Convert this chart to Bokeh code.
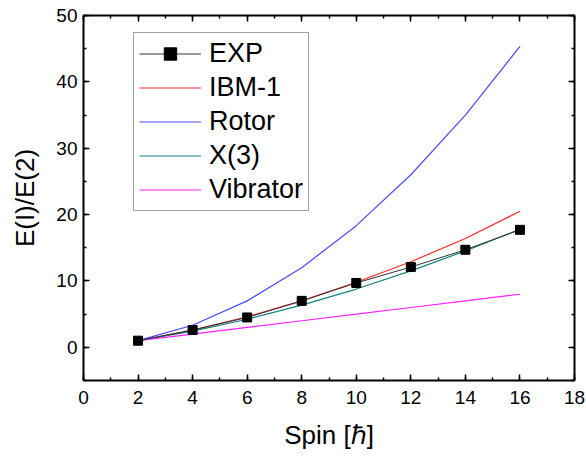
from bokeh.plotting import figure
from bokeh.models import Range1d, LinearAxis, SingleIntervalTicker, Legend, LegendItem
from bokeh.embed import file_html
from bokeh.resources import INLINE

spin = [2, 4, 6, 8, 10, 12, 14, 16]
exp_vals = [1.0, 2.6, 4.5, 7.0, 9.7, 12.1, 14.7, 17.7]
ibm_vals = [1.0, 2.6, 4.6, 7.0, 9.8, 12.9, 16.4, 20.5]
rotor_vals = [1.0, 3.33, 7.0, 12.0, 18.33, 26.0, 35.0, 45.33]
x3_vals = [1.0, 2.44, 4.23, 6.35, 8.78, 11.52, 14.53, 17.8]
vib_vals = [1.0, 2.0, 3.0, 4.0, 5.0, 6.0, 7.0, 8.0]

FONT = "Liberation Sans"

p = figure(width=586, height=459, output_backend="svg", toolbar_location=None,
           x_range=Range1d(0, 18), y_range=Range1d(-5, 50),
           x_axis_type=None, y_axis_type=None)
p.min_border_left = 83
p.min_border_right = 12
p.min_border_top = 15
p.min_border_bottom = 79
p.outline_line_color = None
p.grid.visible = False
p.background_fill_color = "white"
p.border_fill_color = "white"

xt = SingleIntervalTicker(interval=2, num_minor_ticks=2)
yt = SingleIntervalTicker(interval=10, num_minor_ticks=2)


def style(ax, labels=True):
    ax.axis_line_width = 2
    ax.axis_line_color = "black"
    ax.major_tick_in = 6
    ax.major_tick_out = 0
    ax.minor_tick_in = 3
    ax.minor_tick_out = 0
    ax.major_tick_line_width = 1.5
    ax.minor_tick_line_width = 1.5
    ax.major_tick_line_color = "black"
    ax.minor_tick_line_color = "black"
    if labels:
        ax.major_label_text_font = FONT
        ax.major_label_text_font_size = "19px"
        ax.major_label_text_color = "black"
        ax.axis_label_text_font = FONT
        ax.axis_label_text_font_size = "26px"
        ax.axis_label_text_font_style = "normal"
        ax.axis_label_text_color = "black"
    else:
        ax.major_label_text_font_size = "8px"
        ax.major_label_text_color = None
        ax.major_label_standoff = 0


xb = LinearAxis(ticker=xt, axis_label="Spin [ℏ]")
style(xb)
xb.major_label_standoff = 10
xb.axis_label_standoff = 13
p.add_layout(xb, "below")

yl = LinearAxis(ticker=yt, axis_label="E(I)/E(2)")
style(yl)
yl.major_label_standoff = 6
yl.axis_label_standoff = 13
p.add_layout(yl, "left")

xa = LinearAxis(ticker=xt)
style(xa, labels=False)
p.add_layout(xa, "above")

yr = LinearAxis(ticker=yt)
style(yr, labels=False)
p.add_layout(yr, "right")

r_ibm = p.line(spin, ibm_vals, line_color="#ff2a2a", line_width=1.2)
r_rot = p.line(spin, rotor_vals, line_color="#4a4aff", line_width=1.2)
r_x3 = p.line(spin, x3_vals, line_color="#138585", line_width=1.2)
r_vib = p.line(spin, vib_vals, line_color="#ff20ff", line_width=1.2)
r_exp_l = p.line(spin, exp_vals, line_color="#333333", line_width=1)
r_exp_m = p.scatter(spin, exp_vals, marker="square", size=9,
                    fill_color="black", line_color="black")

legend = Legend(items=[
    LegendItem(label="EXP", renderers=[r_exp_l, r_exp_m]),
    LegendItem(label="IBM-1", renderers=[r_ibm]),
    LegendItem(label="Rotor", renderers=[r_rot]),
    LegendItem(label="X(3)", renderers=[r_x3]),
    LegendItem(label="Vibrator", renderers=[r_vib]),
], location=(50, 169))
legend.label_text_font = FONT
legend.label_text_font_size = "27px"
legend.label_text_color = "black"
legend.glyph_width = 62
legend.glyph_height = 31
legend.label_height = 30
legend.spacing = 3
legend.padding = 5
legend.margin = 0
legend.label_standoff = 8
legend.border_line_color = "#444444"
legend.border_line_width = 1
legend.background_fill_color = "white"
legend.background_fill_alpha = 1
p.add_layout(legend, "center")

open("out.html", "w").write(file_html(p, INLINE))
